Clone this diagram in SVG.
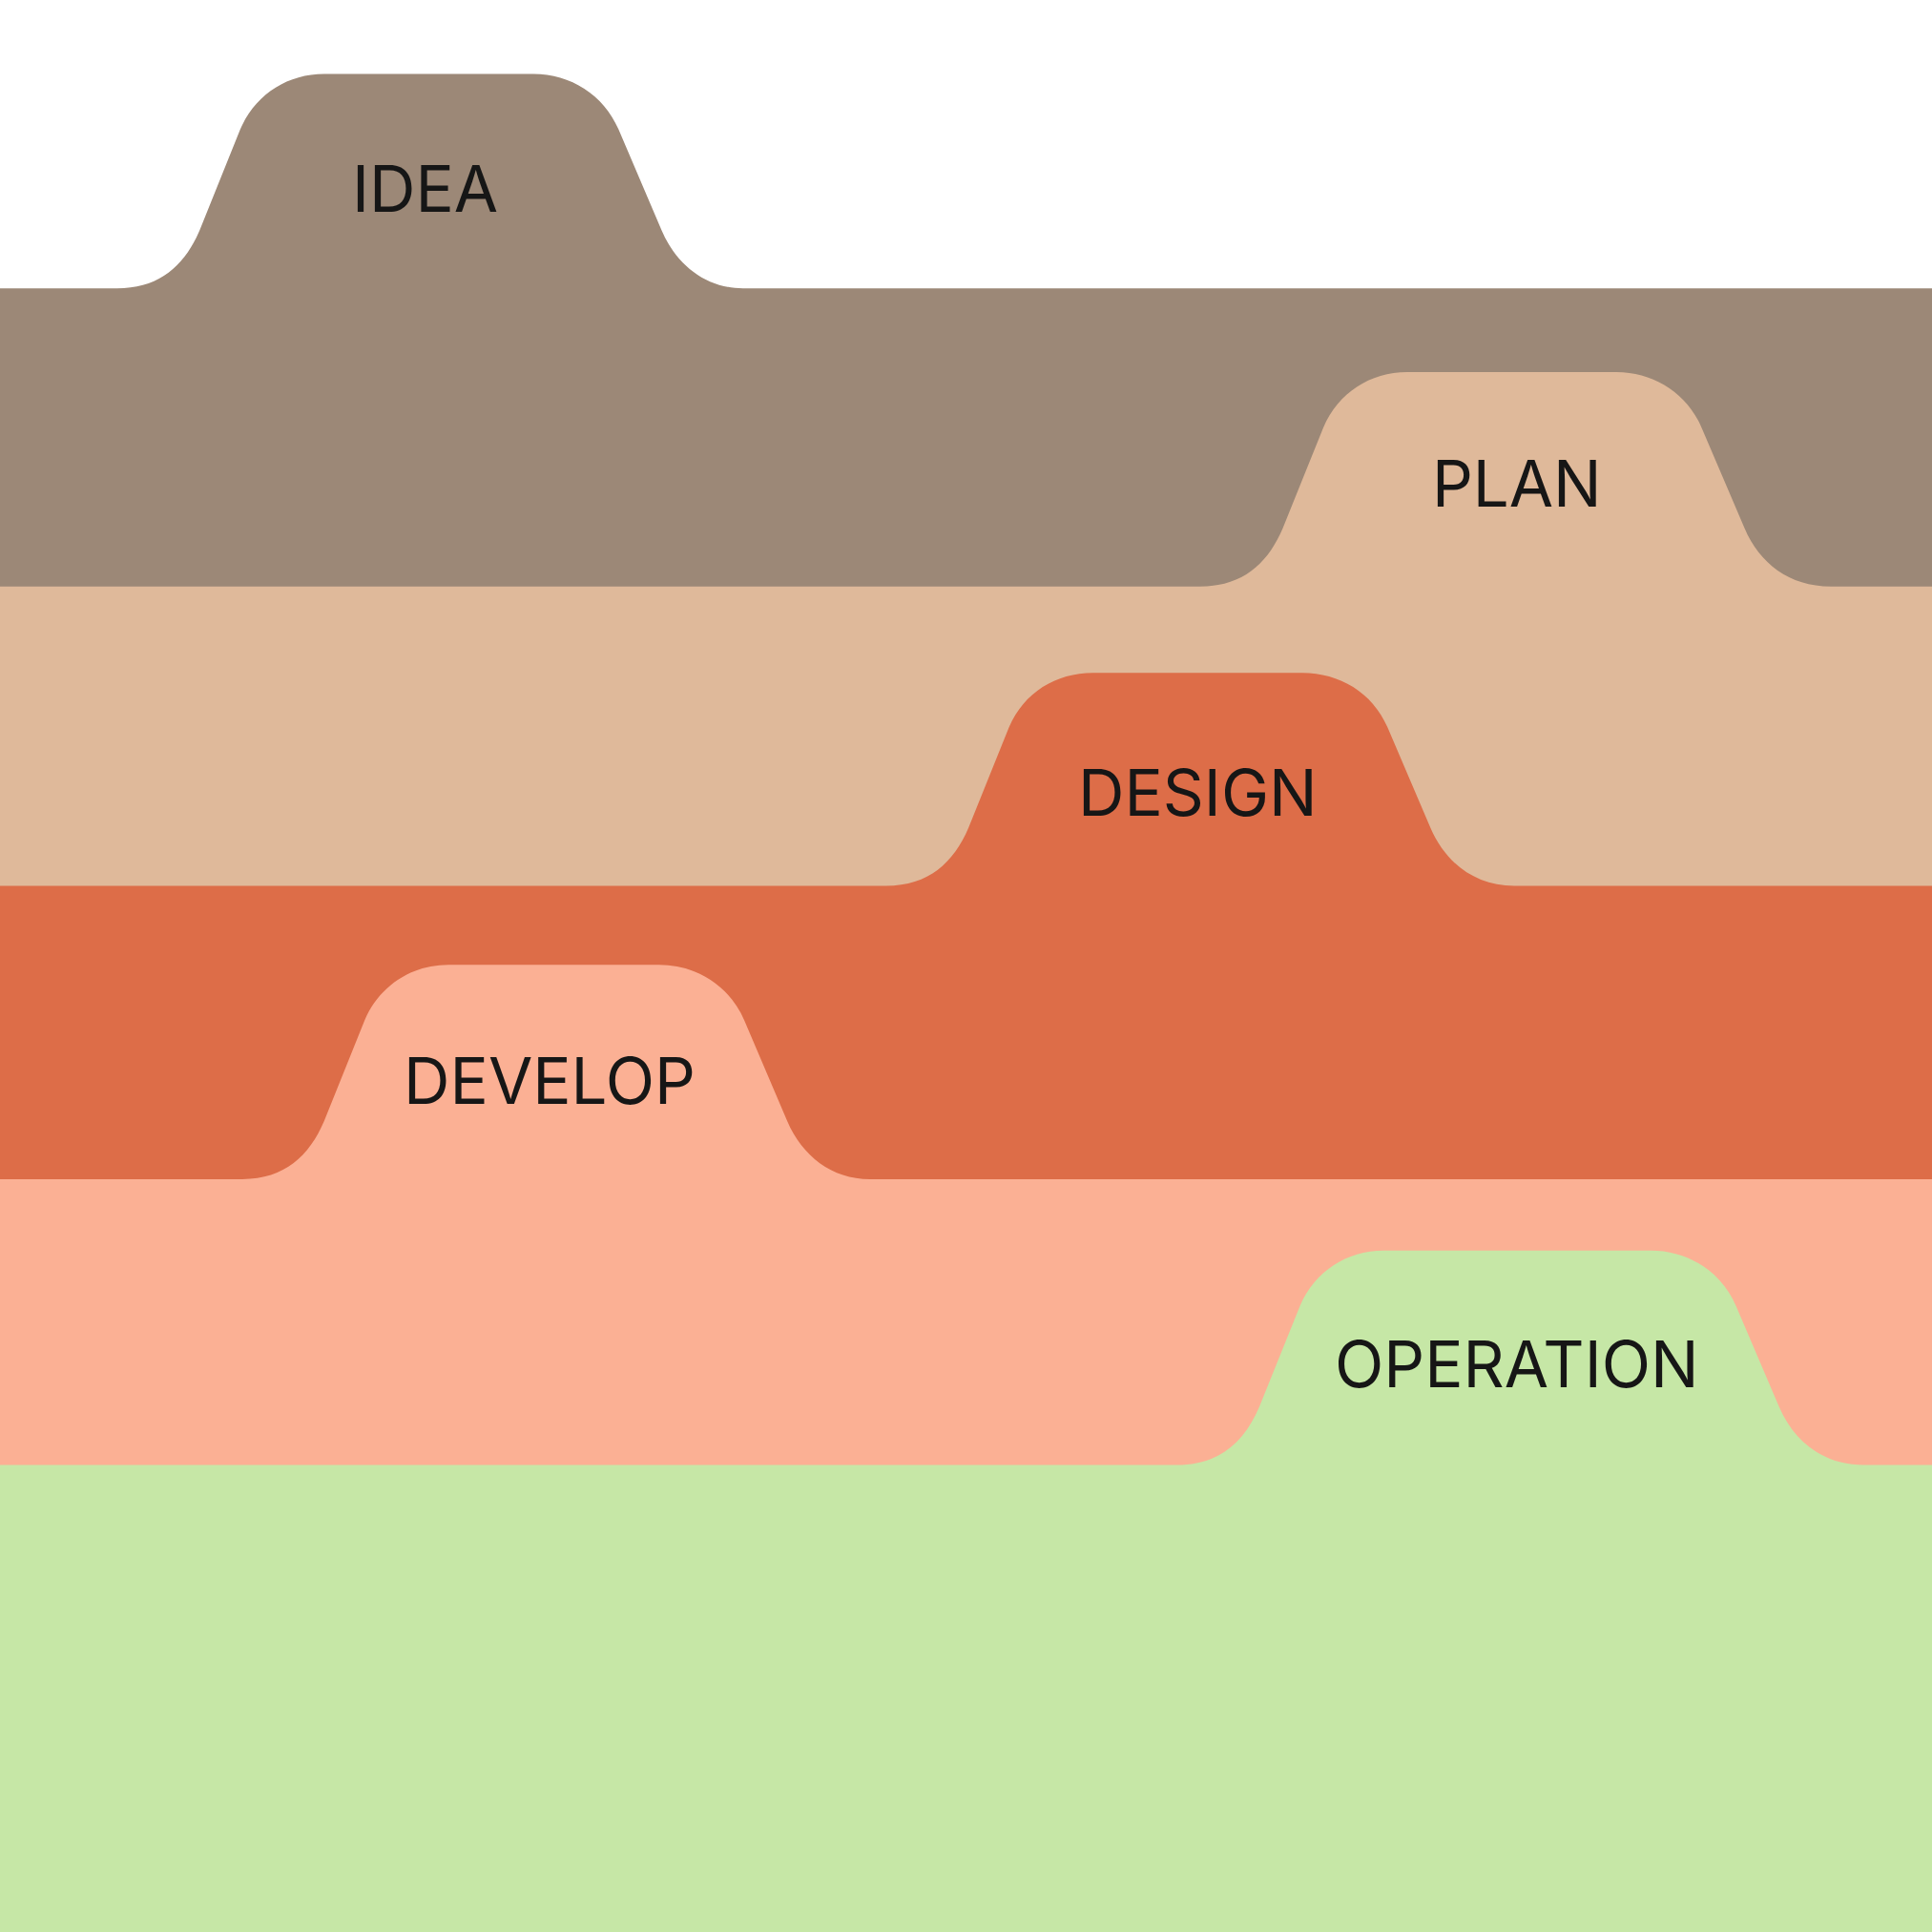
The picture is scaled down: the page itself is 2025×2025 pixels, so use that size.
<svg xmlns="http://www.w3.org/2000/svg" width="2025" height="2025" viewBox="0 0 2025 2025">
<style>
text{font-family:Inter,"Liberation Sans",sans-serif;font-size:52px;fill:#161616;text-anchor:middle;dominant-baseline:central}
</style>
<rect width="2025" height="2025" fill="#fff"/>
<g transform="scale(1.29145)">
<g id="idea">
<path fill="#9C8877" d="M0,234 H95 C130,234 150,215 162,187 L195,105 C207,77 233,60 263,60 H433 C463,60 490,77 502,105 L537,187 C549,215 573,234 603,234 H1568 V1568 H0 Z"/>
<text x="345" y="153">IDEA</text>
</g>
<g id="plan">
<path fill="#DFB99A" d="M0,476 H974 C1009,476 1029,457 1041,429 L1074,347 C1086,319 1112,302 1142,302 H1312 C1342,302 1369,319 1381,347 L1416,429 C1428,457 1452,476 1486,476 H1568 V1568 H0 Z"/>
<text x="1231" y="392">PLAN</text>
</g>
<g id="design">
<path fill="#DD6D48" d="M0,719 H719 C754,719 774,700 786,672 L819,590 C831,562 857,546 887,546 H1057 C1087,546 1114,562 1126,590 L1161,672 C1173,700 1197,719 1229,719 H1568 V1568 H0 Z"/>
<text x="972" y="643">DESIGN</text>
</g>
<g id="develop">
<path fill="#FBB094" d="M0,957 H196 C231,957 251,938 263,910 L296,828 C308,800 334,783 364,783 H535 C565,783 592,800 604,828 L639,910 C651,938 675,957 706,957 H1568 V1568 H0 Z"/>
<text x="446" y="877">DEVELOP</text>
</g>
<g id="operation">
<path fill="#C6E7A6" d="M0,1189 H955 C990,1189 1010,1170 1022,1142 L1055,1060 C1067,1032 1093,1015 1123,1015 H1340 C1370,1015 1397,1032 1409,1060 L1444,1142 C1456,1170 1480,1189 1513,1189 H1568 V1568 H0 Z"/>
<text x="1231" y="1107">OPERATION</text>
</g>
</g>
<g id="connectors"/>
</svg>
